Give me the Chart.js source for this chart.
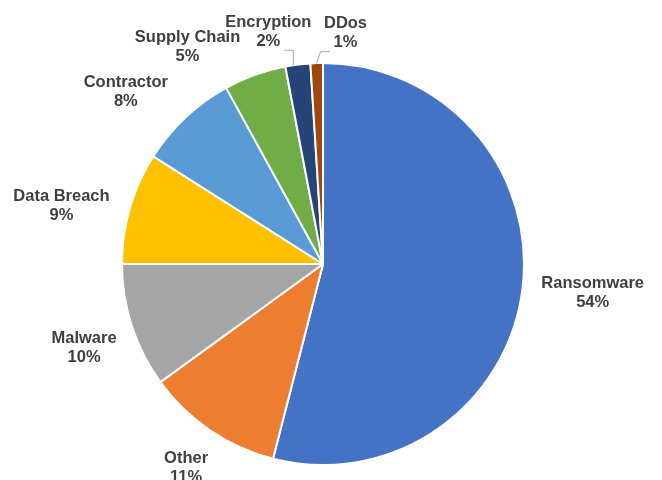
<!DOCTYPE html>
<html>
<head>
<meta charset="utf-8">
<title>Incident types</title>
<script src="https://cdn.jsdelivr.net/npm/chart.js@4/dist/chart.umd.min.js"></script>
<style>
  html, body { margin: 0; padding: 0; background: #fff; }
  #wrap { width: 662px; height: 480px; }
</style>
</head>
<body>
<div id="wrap"><canvas id="chartIncidents" width="662" height="480"></canvas></div>
<script>
const categories = ["Ransomware", "Other", "Malware", "Data Breach", "Contractor", "Supply Chain", "Encryption", "DDos"];
const shares = [54, 11, 10, 9, 8, 5, 2, 1];
const sliceColors = ["#4472C4", "#ED7D31", "#A5A5A5", "#FFC000", "#5B9BD5", "#70AD47", "#264478", "#9E480E"];

// labels sit just outside the rim, the small top slices get pushed apart and get a leader line
const outsideLabels = {
  id: "outsideLabels",
  afterDatasetsDraw(chart, args, opts) {
    const ctx = chart.ctx;
    const meta = chart.getDatasetMeta(0);
    const lh = opts.lineHeight;
    ctx.save();
    ctx.font = opts.font;
    ctx.textAlign = "center";
    ctx.textBaseline = "middle";
    meta.data.forEach((arc, i) => {
      const { x, y, startAngle, endAngle, outerRadius } = arc.getProps(["x", "y", "startAngle", "endAngle", "outerRadius"], true);
      const mid = (startAngle + endAngle) / 2;
      const dx = Math.cos(mid);
      const dy = Math.sin(mid);
      const name = chart.data.labels[i];
      const pct = chart.data.datasets[0].data[i] + "%";
      const w = Math.max(ctx.measureText(name).width, ctx.measureText(pct).width);
      const m = Math.max(Math.abs(dx), Math.abs(dy));
      const nudge = opts.nudge[name] || [0, 0];
      const cx = x + dx * (outerRadius + opts.gap) + (dx / m) * w / 2 + nudge[0];
      const cy = y + dy * (outerRadius + opts.gap) + (dy / m) * lh + nudge[1];

      ctx.fillStyle = opts.color;
      ctx.fillText(name, cx, cy - lh / 2);
      ctx.fillText(pct, cx, cy + lh / 2);

      if (opts.leaders.includes(name)) {
        const midX = x + dx * outerRadius;
        const side = midX > cx ? 1 : -1;
        const sx = cx + side * (ctx.measureText(pct).width / 2 + 4);
        const sy = cy + lh / 2 + 9;
        const ex = sx + side * 9;
        // drop straight down onto the rim if the elbow is well above this slice, else aim at the slice middle
        let ax = midX;
        let ay = y + dy * outerRadius;
        const a = Math.atan2(-Math.sqrt(outerRadius * outerRadius - (ex - x) * (ex - x)), ex - x);
        const aa = a < startAngle ? a + Math.PI * 2 : a;
        if (aa > startAngle + 0.02 && aa < endAngle - 0.02) {
          ax = ex;
          ay = y + outerRadius * Math.sin(a);
        }
        ctx.strokeStyle = opts.leaderColor;
        ctx.lineWidth = 1;
        ctx.beginPath();
        ctx.moveTo(sx, sy);
        ctx.lineTo(ex, sy);
        ctx.lineTo(ax, ay);
        ctx.stroke();
      }
    });
    ctx.restore();
  },
};

const incidentChart = new Chart(document.getElementById("chartIncidents"), {
  type: "pie",
  data: {
    labels: categories,
    datasets: [
      {
        data: shares,
        backgroundColor: sliceColors,
        borderColor: "#ffffff",
        borderWidth: 2,
        hoverOffset: 0,
        offset: 0,
      },
    ],
  },
  options: {
    responsive: false,
    animation: false,
    devicePixelRatio: 1,
    radius: 201,
    layout: {
      padding: { left: 0, right: 16, top: 48, bottom: 0 },
    },
    plugins: {
      legend: { display: false },
      tooltip: { enabled: false },
      outsideLabels: {
        font: 'bold 16.5px "Liberation Sans", Arial, sans-serif',
        color: "#404040",
        leaderColor: "#A6A6A6",
        lineHeight: 19,
        gap: 16,
        leaders: ["Encryption", "DDos"],
        nudge: {
          Ransomware: [3, -1],
          Other: [0, 5],
          Malware: [0, 11],
          "Data Breach": [-5, 8],
          Contractor: [-9, 5],
          "Supply Chain": [-43, 6],
          Encryption: [-22, 2],
          DDos: [30, 5],
        },
      },
    },
  },
  plugins: [outsideLabels],
});
</script>
</body>
</html>
